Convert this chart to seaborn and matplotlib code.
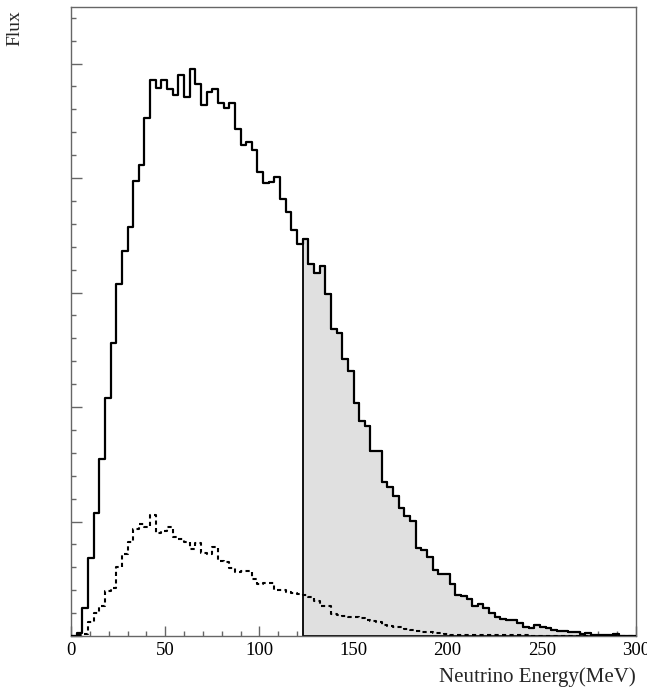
import numpy as np
import pandas as pd
import matplotlib
matplotlib.use("Agg")
import matplotlib.pyplot as plt
import seaborn as sns
from matplotlib.ticker import MultipleLocator, NullFormatter

# ---------------- data (arbitrary flux units, 3 MeV bins, 0-300 MeV) ----------------
bin_width = 3.0
energy_min = 0.0
energy_max = 300.0
shade_start = 123.0  # MeV, start of shaded region

total_flux = [
    0.00, 0.12, 1.21, 3.39, 5.38, 7.72, 10.41, 12.78, 15.37, 16.80,
    17.87, 19.87, 20.57, 22.61, 24.28, 23.94, 24.28, 23.87, 23.64, 24.50,
    23.55, 24.76, 24.09, 23.17, 23.74, 23.89, 23.29, 23.07, 23.29, 22.13,
    21.44, 21.57, 21.22, 20.26, 19.80, 19.84, 20.06, 19.08, 18.53, 17.73,
    17.10, 17.35, 16.24, 15.87, 16.14, 14.93, 13.41, 13.24, 12.10, 11.59,
    10.16, 9.39, 9.18, 8.10, 8.09, 6.74, 6.52, 6.10, 5.58, 5.26,
    5.02, 3.83, 3.76, 3.47, 2.88, 2.71, 2.71, 2.27, 1.81, 1.73,
    1.60, 1.29, 1.38, 1.21, 0.99, 0.82, 0.73, 0.72, 0.71, 0.55,
    0.39, 0.37, 0.49, 0.39, 0.36, 0.25, 0.24, 0.24, 0.17, 0.17,
    0.09, 0.14, 0.04, 0.04, 0.03, 0.03, 0.09, 0.00, 0.00, 0.00,
]

other_flux = [
    0.00, 0.03, 0.10, 0.63, 0.99, 1.31, 1.98, 2.08, 3.03, 3.58,
    4.12, 4.69, 4.89, 4.77, 5.28, 4.48, 4.59, 4.77, 4.31, 4.22,
    4.12, 3.78, 4.08, 3.61, 3.58, 3.87, 3.29, 3.25, 2.95, 2.78,
    2.85, 2.85, 2.49, 2.27, 2.30, 2.30, 2.01, 1.99, 1.94, 1.86,
    1.82, 1.78, 1.72, 1.55, 1.31, 1.31, 0.95, 0.92, 0.87, 0.84,
    0.82, 0.77, 0.70, 0.66, 0.62, 0.48, 0.44, 0.38, 0.38, 0.29,
    0.26, 0.23, 0.19, 0.16, 0.14, 0.12, 0.09, 0.06, 0.03, 0.03,
    0.03, 0.03, 0.03, 0.03, 0.03, 0.03, 0.03, 0.03, 0.03, 0.03,
    0.03, 0.02, 0.02, 0.02, 0.02, 0.02, 0.02, 0.02, 0.02, 0.02,
    0.02, 0.02, 0.02, 0.02, 0.02, 0.02, 0.00, 0.00, 0.00, 0.00,
]

x_ticks = [0, 50, 100, 150, 200, 250, 300]
x_label = "Neutrino Energy(MeV)"
y_label = "Flux"

# ---------------- build table ----------------
edges = np.arange(energy_min, energy_max + bin_width / 2, bin_width)
centers = edges[:-1] + bin_width / 2
df = pd.DataFrame({"energy": centers, "total": total_flux, "other": other_flux})
df_shade = df[df["energy"] >= shade_start].reset_index(drop=True)
edges_list = [float(e) for e in edges]
edges_shade = [e for e in edges_list if e >= shade_start - 1e-9]

# ---------------- style ----------------
sns.set_style("white")
plt.rcParams["font.family"] = ["Liberation Serif", "DejaVu Serif"]

W, H = 647, 689
fig = plt.figure(figsize=(W / 100, H / 100), dpi=100)
ax = fig.add_axes([71 / W, 1 - 636 / H, (636 - 71) / W, (636 - 7) / H])

# shaded area above shade_start
sns.histplot(data=df_shade, x="energy", weights="total", bins=edges_shade,
             element="step", fill=True, color="#e0e0e0", alpha=1,
             edgecolor="black", linewidth=1.3, ax=ax, zorder=1)
# total spectrum outline
sns.histplot(data=df, x="energy", weights="total", bins=edges_list,
             element="step", fill=False, color="black", linewidth=1.6,
             ax=ax, zorder=3)
# dashed spectrum
sns.histplot(data=df, x="energy", weights="other", bins=edges_list,
             element="step", fill=False, color="black", linewidth=1.5,
             linestyle=(0, (2.0, 1.6)), ax=ax, zorder=3)

ax.set_xlim(energy_min, energy_max)
ax.set_ylim(0, 27.47)
ax.set_xlabel("")
ax.set_ylabel("")

frame_color = "#666666"
for s in ax.spines.values():
    s.set_visible(True)
    s.set_color(frame_color)
    s.set_linewidth(1.0)

ax.xaxis.set_minor_locator(MultipleLocator(10))
ax.set_xticks(x_ticks)
ax.set_xticklabels([str(t) for t in x_ticks])
ax.yaxis.set_major_locator(MultipleLocator(5))
ax.yaxis.set_minor_locator(MultipleLocator(1))
ax.yaxis.set_major_formatter(NullFormatter())

ax.tick_params(axis="both", which="both", direction="in", color=frame_color,
               left=True, bottom=True, top=False, right=False, width=1.0)
ax.tick_params(axis="y", which="major", length=7.7)
ax.tick_params(axis="x", which="major", length=7.0)
ax.tick_params(axis="both", which="minor", length=3.3)
ax.tick_params(axis="x", which="major", labelsize=13.5, pad=4, labelcolor="black")

fig.text(15 / W, 1 - 28 / H, y_label, rotation=90, ha="center", va="center",
         fontsize=14)
fig.text(636 / W, 1 - 677 / H, x_label, ha="right", va="center", fontsize=15)

fig.savefig("out.png", dpi=100)
